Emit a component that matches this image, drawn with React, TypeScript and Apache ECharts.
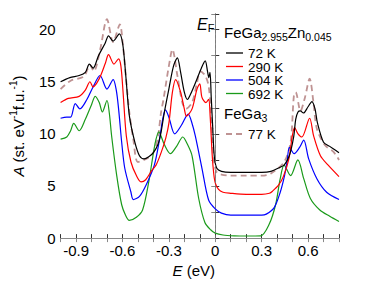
import React, { useEffect, useRef } from "react";
import * as echarts from "echarts";

const k72: [number, number][] = [
  [-1.0, 15.0], [-0.94, 15.4], [-0.88, 15.6], [-0.84, 15.9], [-0.814, 16.7], [-0.79, 16.3], [-0.755, 17.5],
  [-0.712, 18.7], [-0.69, 19.4], [-0.66, 18.9], [-0.62, 19.6], [-0.598, 18.6], [-0.578, 15.5], [-0.555, 11.7],
  [-0.52, 9.2], [-0.49, 7.9], [-0.46, 7.6], [-0.43, 7.8], [-0.40, 8.2], [-0.37, 9.0], [-0.35, 10.2],
  [-0.33, 12.0], [-0.30, 14.3], [-0.27, 16.5], [-0.245, 17.3], [-0.225, 16.0], [-0.20, 14.0], [-0.18, 13.3],
  [-0.16, 13.8], [-0.12, 15.2], [-0.09, 16.3], [-0.065, 17.0], [-0.05, 16.0], [-0.042, 15.4], [-0.034, 15.9],
  [-0.026, 13.5], [-0.016, 10.5], [-0.006, 7.8], [0.01, 6.7], [0.04, 6.4], [0.1, 6.3], [0.2, 6.3], [0.3, 6.3],
  [0.36, 6.4], [0.42, 6.8], [0.445, 7.0], [0.47, 7.6], [0.487, 8.3], [0.508, 9.8], [0.52, 11.4], [0.535, 12.1],
  [0.55, 12.2], [0.57, 12.0], [0.60, 12.6], [0.625, 13.1], [0.645, 12.4], [0.66, 11.1], [0.70, 9.2],
  [0.74, 8.8], [0.78, 8.4], [0.8, 8.2],
];

const k290: [number, number][] = [
  [-1.0, 13.0], [-0.95, 13.4], [-0.88, 13.6], [-0.84, 14.2], [-0.81, 15.0], [-0.79, 14.5], [-0.75, 15.3],
  [-0.71, 16.8], [-0.69, 17.6], [-0.655, 16.7], [-0.625, 17.2], [-0.61, 16.5], [-0.596, 14.0], [-0.575, 9.8],
  [-0.545, 7.3], [-0.51, 6.0], [-0.48, 5.4], [-0.45, 5.6], [-0.41, 6.5], [-0.383, 7.0], [-0.35, 8.2],
  [-0.32, 9.6], [-0.30, 11.0], [-0.277, 14.0], [-0.256, 15.2], [-0.224, 14.0], [-0.20, 12.4], [-0.186, 11.7],
  [-0.15, 12.4], [-0.118, 14.3], [-0.10, 14.8], [-0.086, 13.5], [-0.06, 13.0], [-0.043, 13.3], [-0.033, 11.7],
  [-0.02, 8.0], [-0.01, 6.2], [0.0, 5.3], [0.02, 4.7], [0.05, 4.4], [0.1, 4.3], [0.2, 4.2], [0.3, 4.2],
  [0.35, 4.3], [0.37, 4.5], [0.41, 5.1], [0.44, 5.9], [0.476, 7.6], [0.498, 9.8], [0.513, 10.6], [0.535, 10.0],
  [0.56, 9.7], [0.61, 11.5], [0.636, 9.8], [0.68, 7.9], [0.73, 7.0], [0.8, 5.9],
];

const k504: [number, number][] = [
  [-1.0, 11.5], [-0.96, 11.6], [-0.935, 11.6], [-0.905, 12.9], [-0.875, 12.4], [-0.83, 13.3], [-0.79, 14.5],
  [-0.745, 15.6], [-0.70, 14.3], [-0.66, 15.2], [-0.64, 14.2], [-0.625, 12.4], [-0.605, 9.2], [-0.585, 6.7],
  [-0.545, 4.4], [-0.53, 3.7], [-0.49, 4.0], [-0.447, 5.1], [-0.394, 7.0], [-0.36, 9.5], [-0.34, 11.4],
  [-0.322, 12.3], [-0.30, 11.6], [-0.262, 10.0], [-0.22, 10.8], [-0.175, 11.9], [-0.15, 11.0], [-0.129, 9.8],
  [-0.086, 6.7], [-0.043, 3.65], [0.0, 2.8], [0.04, 2.4], [0.1, 2.2], [0.2, 2.2], [0.3, 2.2], [0.33, 2.3],
  [0.38, 2.9], [0.42, 4.4], [0.448, 6.0], [0.464, 7.3], [0.48, 8.7], [0.51, 8.1], [0.545, 8.7], [0.572, 9.4],
  [0.604, 7.6], [0.657, 5.7], [0.72, 4.4], [0.8, 3.7],
];

const k692: [number, number][] = [
  [-1.0, 9.5], [-0.96, 9.7], [-0.935, 10.3], [-0.915, 11.0], [-0.88, 10.3], [-0.84, 11.4], [-0.80, 12.8],
  [-0.776, 13.6], [-0.75, 13.0], [-0.73, 12.1], [-0.70, 13.2], [-0.685, 12.0], [-0.67, 9.8], [-0.637, 6.0],
  [-0.605, 3.2], [-0.58, 2.2], [-0.556, 1.7], [-0.51, 2.0], [-0.47, 2.7], [-0.43, 5.4], [-0.39, 9.0],
  [-0.365, 10.2], [-0.33, 9.0], [-0.29, 8.1], [-0.25, 8.8], [-0.21, 9.7], [-0.18, 9.0], [-0.15, 7.9],
  [-0.107, 3.8], [-0.067, 1.5], [-0.03, 0.8], [0.0, 0.48], [0.05, 0.3], [0.124, 0.22], [0.2, 0.2],
  [0.294, 0.22], [0.347, 1.27], [0.39, 3.2], [0.42, 5.7], [0.445, 7.0], [0.487, 6.0], [0.534, 7.5],
  [0.572, 5.7], [0.615, 3.8], [0.676, 2.7], [0.74, 2.1], [0.8, 1.6],
];

const feGa3_77: [number, number][] = [
  [-1.0, 14.3], [-0.935, 15.1], [-0.85, 15.5], [-0.81, 16.6], [-0.785, 16.0], [-0.744, 18.1], [-0.70, 21.0],
  [-0.66, 18.8], [-0.617, 20.5], [-0.597, 18.5], [-0.575, 15.0], [-0.555, 12.0], [-0.53, 9.5], [-0.50, 7.3],
  [-0.447, 7.6], [-0.404, 8.1], [-0.373, 9.5], [-0.35, 12.1], [-0.336, 13.2], [-0.30, 16.5], [-0.277, 18.1],
  [-0.245, 15.6], [-0.213, 13.0], [-0.19, 12.4], [-0.15, 13.0], [-0.118, 14.9], [-0.097, 16.0], [-0.065, 15.6],
  [-0.043, 14.6], [-0.03, 12.5], [-0.018, 9.5], [-0.006, 7.2], [0.01, 6.3], [0.04, 6.1], [0.1, 6.0], [0.2, 6.0],
  [0.3, 6.0], [0.36, 6.2], [0.445, 7.3], [0.487, 9.2], [0.508, 13.6], [0.52, 14.0], [0.551, 12.2], [0.58, 13.5],
  [0.61, 15.3], [0.635, 13.0], [0.657, 10.5], [0.71, 8.9], [0.763, 8.3], [0.8, 7.5],
];

const legendLabels = ["72 K", "290 K", "504 K", "692 K"];
const seriesColors = ["#000000", "#ff0000", "#0000ff", "#1a9a1a"];
const dashedColor = "#bf9393";
const xLabelValues = [-0.9, -0.6, -0.3, 0, 0.3, 0.6];
const yLabelValues = [0, 5, 10, 15, 20];

const FONT = "'Liberation Sans', Arial, Helvetica, sans-serif";

export default function App() {
  const ref = useRef<HTMLDivElement>(null);
  useEffect(() => {
    if (!ref.current) return;
    const chart = echarts.init(ref.current, undefined, { renderer: "svg" });
    const axisColor = "#333";
    const frameColor = "#888";
    const lineSeries = (name: string, data: [number, number][], color: string, extra: any = {}) => ({
      name,
      type: "line",
      data,
      showSymbol: false,
      smooth: 0.3,
      lineStyle: { color, width: 1.2 },
      z: 3,
      ...extra,
    });
    const rowY = (i: number) => 53 + i * 13.5;
    const option: any = {
      animation: false,
      grid: { left: 57, right: 27, top: 14, bottom: 43 },
      xAxis: [
        {
          type: "value",
          min: -1.0,
          max: 0.8,
          interval: 0.1,
          axisLine: { lineStyle: { color: axisColor, width: 1 } },
          axisTick: { inside: true, length: 4, lineStyle: { color: axisColor } },
          splitLine: { show: false },
          axisLabel: {
            margin: 5,
            color: "#000",
            fontFamily: FONT,
            fontSize: 15,
            formatter: (v: number) => {
              const hit = xLabelValues.find((t) => Math.abs(t - v) < 1e-6);
              if (hit === undefined) return "";
              return hit === 0 ? "0" : hit.toFixed(1);
            },
          },
          name: "{i|E} (eV)",
          nameLocation: "middle",
          nameGap: 22,
          nameTextStyle: {
            color: "#000",
            fontFamily: FONT,
            fontSize: 15,
            padding: [0, 12, 0, 0],
            rich: { i: { fontStyle: "italic", fontFamily: FONT, fontSize: 15, color: "#000" } },
          },
        },
        {
          type: "value",
          position: "top",
          min: -1.0,
          max: 0.8,
          interval: 0.1,
          axisLine: { show: true, lineStyle: { color: frameColor } },
          axisTick: { inside: true, length: 4, lineStyle: { color: frameColor } },
          axisLabel: { show: false },
          splitLine: { show: false },
        },
      ],
      yAxis: [
        {
          type: "value",
          min: 0,
          max: 21.5,
          interval: 2.5,
          axisLine: { show: true, lineStyle: { color: axisColor } },
          axisTick: { inside: true, length: 4, lineStyle: { color: axisColor } },
          splitLine: { show: false },
          axisLabel: {
            margin: 5,
            color: "#000",
            fontFamily: FONT,
            fontSize: 15,
            formatter: (v: number) => {
              const hit = yLabelValues.find((t) => Math.abs(t - v) < 1e-6);
              return hit === undefined ? "" : String(hit);
            },
          },
          name: "{i|A} (st. eV{s|-1}f.u.{s|-1})",
          nameLocation: "middle",
          nameRotate: 90,
          nameGap: 26,
          nameTextStyle: {
            color: "#000",
            fontFamily: FONT,
            fontSize: 15,
            lineHeight: 20,
            rich: {
              i: { fontStyle: "italic", fontFamily: FONT, fontSize: 15, color: "#000", lineHeight: 20 },
              s: { fontFamily: FONT, fontSize: 10, color: "#000", verticalAlign: "top", lineHeight: 12 },
            },
          },
        },
        {
          type: "value",
          position: "right",
          min: 0,
          max: 21.5,
          interval: 2.5,
          axisLine: { show: true, lineStyle: { color: frameColor } },
          axisTick: { inside: true, length: 4, lineStyle: { color: frameColor } },
          axisLabel: { show: false },
          splitLine: { show: false },
        },
      ],
      series: [
        lineSeries("77 K FeGa3", feGa3_77, dashedColor, {
          lineStyle: { color: dashedColor, width: 1.8, type: [6, 4] },
          z: 2,
          markLine: {
            silent: true,
            symbol: ["none", "none"],
            label: { show: false },
            lineStyle: { color: "#777", width: 0.8, type: [3, 2] },
            data: [{ xAxis: 0 }],
          },
        }),
        lineSeries(legendLabels[3], k692, seriesColors[3]),
        lineSeries(legendLabels[2], k504, seriesColors[2]),
        lineSeries(legendLabels[1], k290, seriesColors[1]),
        lineSeries(legendLabels[0], k72, seriesColors[0]),
      ],
      graphic: [
        {
          type: "text",
          left: 197,
          top: 16,
          style: {
            text: "{e|E}{f|F}",
            rich: {
              e: { fontStyle: "italic", fontFamily: FONT, fontSize: 16, fill: "#000", lineHeight: 18 },
              f: { fontFamily: FONT, fontSize: 11, fill: "#000", verticalAlign: "bottom", lineHeight: 12 },
            },
          },
        },
        {
          type: "text",
          left: 224,
          top: 25,
          style: {
            text: "{a|FeGa}{b|2.955}{a|Zn}{b|0.045}",
            rich: {
              a: { fontFamily: FONT, fontSize: 15, fill: "#000", lineHeight: 20 },
              b: { fontFamily: FONT, fontSize: 10.5, fill: "#000", verticalAlign: "bottom", lineHeight: 12 },
            },
          },
        },
        ...legendLabels.flatMap((lab, i) => [
          {
            type: "line",
            shape: { x1: 226, y1: rowY(i), x2: 243, y2: rowY(i) },
            style: { stroke: seriesColors[i], lineWidth: 1.3 },
          },
          {
            type: "text",
            left: 248,
            top: rowY(i) - 6.5,
            style: { text: lab, fontFamily: FONT, fontSize: 13.5, fill: "#000", lineHeight: 13 },
          },
        ]),
        {
          type: "text",
          left: 224,
          top: 106,
          style: {
            text: "{a|FeGa}{b|3}",
            rich: {
              a: { fontFamily: FONT, fontSize: 15, fill: "#000", lineHeight: 20 },
              b: { fontFamily: FONT, fontSize: 10.5, fill: "#000", verticalAlign: "bottom", lineHeight: 12 },
            },
          },
        },
        {
          type: "line",
          shape: { x1: 226, y1: 134, x2: 243, y2: 134 },
          style: { stroke: dashedColor, lineWidth: 1.8, lineDash: [6, 4] },
        },
        {
          type: "text",
          left: 248,
          top: 127.5,
          style: { text: "77 K", fontFamily: FONT, fontSize: 13.5, fill: "#000", lineHeight: 13 },
        },
      ],
    };
    chart.setOption(option);
    return () => chart.dispose();
  }, []);
  return <div ref={ref} style={{ width: 366, height: 283, position: "absolute", left: 0, top: 0 }} />;
}
